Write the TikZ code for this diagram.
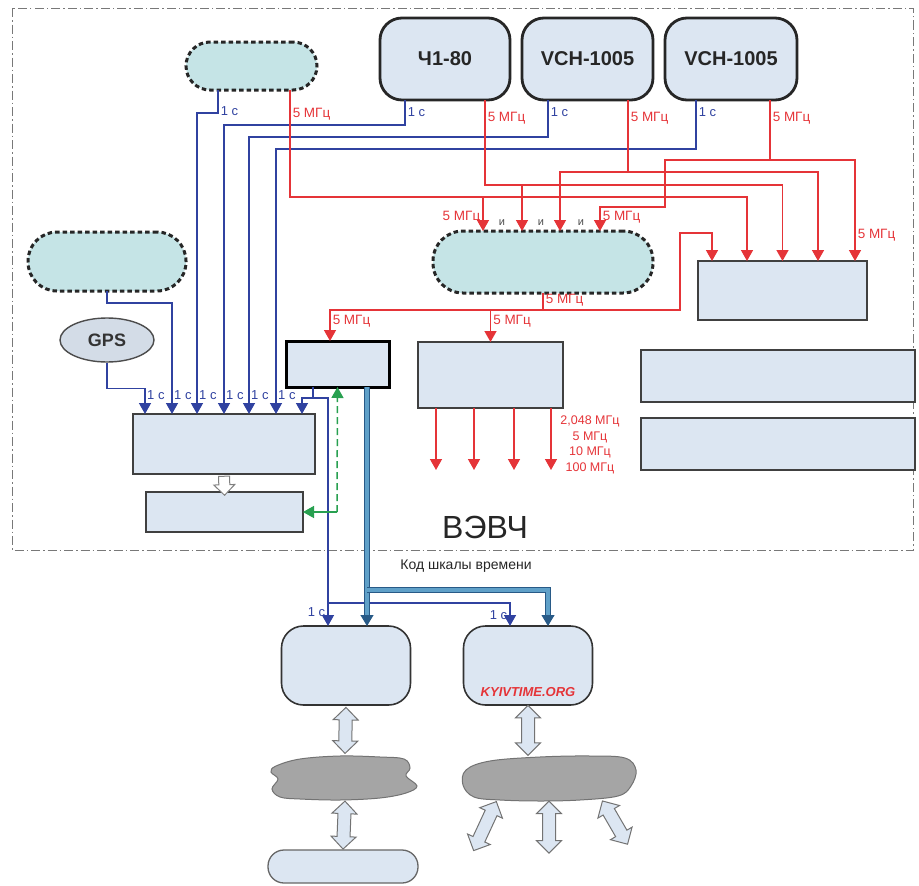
\documentclass[tikz,border=0pt]{standalone}
\usepackage{fontspec}
\setmainfont{Liberation Sans}
\usetikzlibrary{arrows.meta,shapes.geometric,shapes.arrows}

\definecolor{boxfill}{RGB}{220,230,242}
\definecolor{dashfill}{RGB}{197,228,230}
\definecolor{sigred}{RGB}{229,52,56}
\definecolor{secblue}{RGB}{48,66,160}
\definecolor{syncgreen}{RGB}{40,160,80}
\definecolor{pipeedge}{RGB}{40,90,135}
\definecolor{pipefill}{RGB}{95,160,200}
\definecolor{blobgray}{RGB}{165,165,165}
\definecolor{framegray}{RGB}{120,120,120}

\tikzset{
    frame/.style={draw=framegray, line width=1pt, dash pattern=on 9pt off 3pt on 1.5pt off 3pt},
    box/.style={draw=black!75, fill=boxfill, line width=1.3pt, inner sep=0pt, outer sep=0pt},
    clock/.style={box, draw=black!85, line width=2.8pt, rounded corners=22pt, minimum height=82pt,
        text=black!85, font=\bfseries\fontsize{20}{20}\selectfont},
    pill/.style={draw=black!85, fill=dashfill, line width=3pt, dash pattern=on 4.5pt off 3pt,
        inner sep=0pt, outer sep=0pt},
    server/.style={box, draw=black!80, line width=1.6pt, rounded corners=22pt, minimum width=129pt, minimum height=79pt},
    gps/.style={ellipse, draw=black!70, fill=boxfill!90!gray, line width=1.4pt, minimum width=94pt,
        minimum height=44pt, inner sep=0pt, text=black!80, font=\bfseries\fontsize{18}{18}\selectfont},
    blob/.style={draw=black!55, fill=blobgray, line width=1pt},
    sec/.style={draw=secblue, line width=1.5pt, -{Triangle[width=12pt,length=11pt]}},
    ref/.style={draw=sigred, line width=1.5pt, -{Triangle[width=12pt,length=11pt]}},
    sync/.style={draw=syncgreen, line width=1.5pt, -{Triangle[width=12pt,length=11pt]}},
    pipe/.style={draw=pipeedge, line width=1.2pt, double=pipefill, double distance=3.2pt,
        -{Triangle[width=13pt,length=11pt]}},
    hollow/.style={single arrow, draw=black!50, fill=white, line width=1pt, minimum height=19pt,
        inner xsep=0pt, inner ysep=5pt, single arrow head extend=5pt},
    dbl/.style={double arrow, draw=black!55, fill=boxfill, line width=1pt, inner xsep=0pt,
        inner ysep=6pt, double arrow head extend=6pt, double arrow head indent=0pt},
    blab/.style={text=secblue, inner sep=2pt, font=\fontsize{13}{13}\selectfont},
    rlab/.style={text=sigred, inner sep=2pt, font=\fontsize{13.5}{13.5}\selectfont},
    ilab/.style={text=black!70, inner sep=0pt, font=\fontsize{11}{11}\selectfont}
}

\begin{document}
\begin{tikzpicture}[x=1pt, y=-1pt]
    \useasboundingbox (0,0) rectangle (919,886);
    \draw[frame] (12,8) rectangle (913,550);

    \node[pill, rounded corners=24pt, minimum width=131pt, minimum height=48pt] (0) at (251.5,66) {};
    \node[pill, rounded corners=29pt, minimum width=158pt, minimum height=59pt] (1) at (107,261.5) {};
    \node[clock, minimum width=130pt] (2) at (445,59) {Ч1-80};
    \node[clock, minimum width=131pt] (3) at (587.5,59) {VCH-1005};
    \node[clock, minimum width=132pt] (4) at (731,59) {VCH-1005};
    \node[gps] (5) at (107,340) {GPS};
    \node[pill, rounded corners=30pt, minimum width=220pt, minimum height=62pt] (6) at (543,262) {};
    \node[box, minimum width=169pt, minimum height=59pt] (7) at (782.5,290.5) {};
    \node[box, draw=black, line width=3pt, minimum width=103pt, minimum height=46pt] (8) at (337.5,364) {};
    \node[box, minimum width=145pt, minimum height=66pt] (9) at (490.5,375) {};
    \node[box, minimum width=274pt, minimum height=52pt] (10) at (778,376) {};
    \node[box, minimum width=274pt, minimum height=52pt] (11) at (778,444) {};
    \node[box, minimum width=182pt, minimum height=60pt] (12) at (224,444) {};
    \node[box, minimum width=157pt, minimum height=40pt] (13) at (224.5,512) {};
    \node[server] (14) at (346,665.5) {};
    \node[server] (15) at (528,665.5) {};
    \node[minimum width=145pt, minimum height=44pt, inner sep=0pt] (16) at (345,778) {};
    \node[minimum width=172pt, minimum height=44pt, inner sep=0pt] (17) at (549,778) {};
    \node[box, draw=black!60, rounded corners=16pt, minimum width=150pt, minimum height=33pt] (18) at (343,866.5) {};

    \node[text=black!85, font=\fontsize{32}{32}\selectfont] (19) at (485,527) {ВЭВЧ};
    \node[text=black!85, font=\fontsize{14}{14}\selectfont] (20) at (466,566) {Код шкалы времени};
    \node[text=sigred, font=\bfseries\itshape\fontsize{13}{13}\selectfont] (24) at (528,692) {KYIVTIME.ORG};
    \node[rlab, align=center, font=\fontsize{12.5}{15.5}\selectfont] (25) at (590,445) {2,048 МГц\\5 МГц\\10 МГц\\100 МГц};

    \coordinate (21) at (473,852);
    \coordinate (22) at (549,854);
    \coordinate (23) at (628,845);

    \draw[blob] plot[smooth cycle, tension=0.6] coordinates {(276,766) (300,759) (340,756) (380,757) (404,759)
        (410,768) (406,776) (417,786) (406,793) (380,798) (340,800) (300,799) (280,797) (272,789) (278,779) (271,772)};
    \draw[blob] plot[smooth cycle, tension=0.6] coordinates {(466,770) (490,761) (540,757) (590,756) (625,758)
        (636,770) (631,786) (618,796) (580,800) (540,801) (500,800) (474,797) (463,785)};

    \draw[sec] (5.south) -- ++(0,26) -| ([xshift=-79pt]12.north);
    \draw[sec] (1.south) -- ++(0,12) -| ([xshift=-52pt]12.north);
    \draw[sec] ([xshift=-33.5pt]0.south) -- node[blab, right, pos=0.9] {1 с} ++(0,23) -| ([xshift=-27pt]12.north);
    \draw[sec] ([xshift=-40pt]2.south) -- node[blab, right, pos=0.48] {1 с} ++(0,25) -| (12.north);
    \draw[sec] ([xshift=-39.5pt]3.south) -- node[blab, right, pos=0.32] {1 с} ++(0,37) -| ([xshift=25pt]12.north);
    \draw[sec] ([xshift=-35pt]4.south) -- node[blab, right, pos=0.25] {1 с} ++(0,49) -| ([xshift=52pt]12.north);
    \draw[sec] ([xshift=-24.5pt]8.south) -- ++(0,11) -| ([xshift=78pt]12.north);
    \draw[sec] ([xshift=-24.5pt]8.south) ++(0,11) -| node[blab, left, pos=0.97] {1 с} ([xshift=-18pt]14.north);
    \draw[sec] ([xshift=-18pt]14.north) ++(0,-23) -| node[blab, left, pos=0.76] {1 с} ([xshift=-18pt]15.north);
    \foreach \x [count=\i] in {-79,-52,-27,0,25,52}
        \node[blab, anchor=west] (l\i) at ([xshift=\x pt, yshift=19pt]12.north) {1 с};

    \draw[ref] ([xshift=38.5pt]0.south) -- node[rlab, right, pos=0.23] {5 МГц} ++(0,107) -| ([xshift=-35.5pt]7.north);
    \draw[ref] ([xshift=-60pt]6.north) ++(0,-34) -- node[rlab, left, pos=0.6] {5 МГц} ([xshift=-60pt]6.north);
    \draw[ref] ([xshift=40pt]2.south) -- node[rlab, right, pos=0.21] {5 МГц} ++(0,85) -| (7.north);
    \draw[ref] ([xshift=-21pt]6.north) ++(0,-46) -- ([xshift=-21pt]6.north);
    \draw[ref] ([xshift=40.5pt]3.south) -- node[rlab, right, pos=0.25] {5 МГц} ++(0,72) -| ([xshift=17pt]6.north);
    \draw[ref] ([xshift=40.5pt]3.south) ++(0,72) -| ([xshift=35.5pt]7.north);
    \draw[ref] ([xshift=39pt]4.south) -- node[rlab, right, pos=0.3] {5 МГц} ++(0,60) -| node[rlab, right, pos=0.87] {5 МГц} ([xshift=72.5pt]7.north);
    \draw[ref] ([xshift=39pt]4.south) ++(0,60) -| ++(-105,47) -| node[rlab, right, pos=0.72] {5 МГц} ([xshift=57pt]6.north);
    \node[ilab] (26) at ([xshift=-41pt, yshift=8pt]6.north) {и};
    \node[ilab] (27) at ([xshift=-2pt, yshift=8pt]6.north) {и};
    \node[ilab] (28) at ([xshift=38pt, yshift=8pt]6.north) {и};

    \draw[ref] (6.south) -- node[rlab, right, pos=0.45] {5 МГц} ++(0,17) -| node[rlab, right, pos=0.68] {5 МГц} ([xshift=-7.5pt]8.north);
    \draw[ref] (6.south) ++(0,17) -| ++(137,-77) -| ([xshift=-70.5pt]7.north);
    \draw[ref] (9.north) ++(0,-32) -- node[rlab, right, pos=0.35] {5 МГц} (9.north);
    \foreach \x in {-54.5,-16.5,23.5,60.5}
        \draw[ref] ([xshift=\x pt]9.south) -- ++(0,62);

    \draw[sync, dash pattern=on 7pt off 4pt] ([xshift=34pt]13.east) -- (8.south);
    \draw[sync] ([xshift=34pt]13.east) -- (13.east);

    \draw[pipe] ([xshift=29.5pt]8.south) -- ([xshift=21pt]14.north);
    \draw[pipe] ([xshift=29.5pt]8.south) ++(0,203) -| ([xshift=20pt]15.north);

    \path (12.south) -- node[hollow, sloped, allow upside down] {} (13.north);
    \path (14.south) -- node[dbl, sloped, minimum height=46pt] {} (16.north);
    \path (16.south) -- node[dbl, sloped, minimum height=48pt] {} (18.north);
    \path (15.south) -- node[dbl, sloped, minimum height=50pt] {} (15.south |- 17.north);
    \path ([xshift=-52pt]17.south) -- node[dbl, sloped, minimum height=54pt] {} (21);
    \path (17.south) -- node[dbl, sloped, minimum height=52pt] {} (22);
    \path ([xshift=53pt]17.south) -- node[dbl, sloped, minimum height=50pt] {} (23);
\end{tikzpicture}
\end{document}
